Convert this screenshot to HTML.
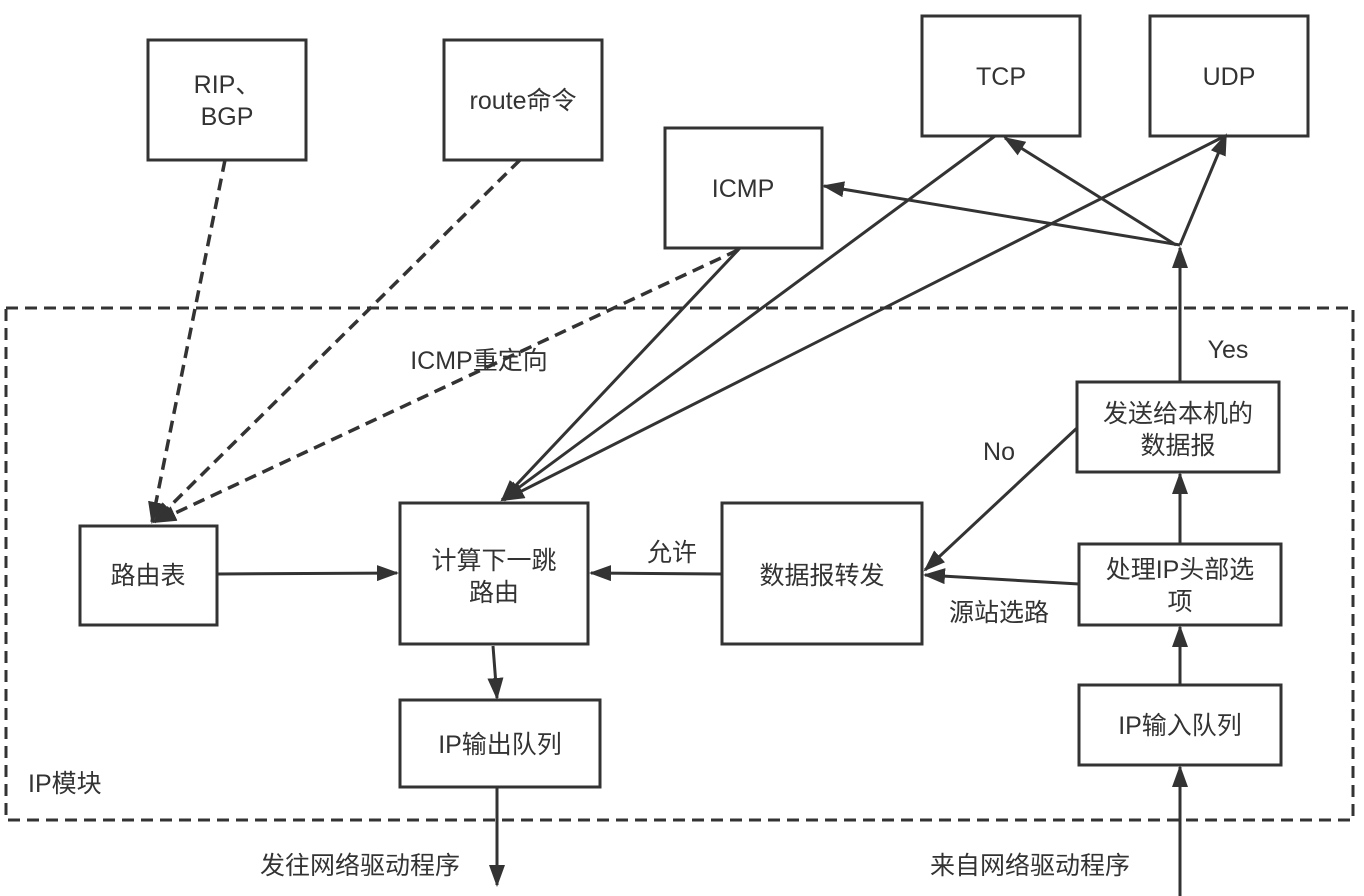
<!DOCTYPE html>
<html><head><meta charset="utf-8"><style>
html,body{margin:0;padding:0;background:#fff;width:1364px;height:896px;overflow:hidden}
text{font-family:"Liberation Sans","Noto Sans CJK SC",sans-serif;font-size:25px;fill:#333}
</style></head><body>
<svg width="1364" height="896" viewBox="0 0 1364 896" xmlns="http://www.w3.org/2000/svg">
<defs>
<marker id="a" markerWidth="22" markerHeight="16" refX="20" refY="8" orient="auto" markerUnits="userSpaceOnUse" viewBox="0 0 22 16">
<path d="M0,0 L22,8 L0,16 z" fill="#333"/></marker>
</defs>
<g fill="none" stroke="#333" stroke-width="3">
<rect x="6" y="308" width="1347" height="512" stroke-dasharray="12,7"/>
<rect x="148" y="40" width="158" height="120"/>
<rect x="444" y="40" width="158" height="120"/>
<rect x="922" y="16" width="158" height="120"/>
<rect x="1150" y="16" width="158" height="120"/>
<rect x="665" y="128" width="157" height="120"/>
<rect x="80" y="526" width="137" height="99"/>
<rect x="400" y="503" width="188" height="141"/>
<rect x="722" y="503" width="200" height="141"/>
<rect x="1077" y="382" width="202" height="90"/>
<rect x="1079" y="544" width="202" height="81"/>
<rect x="1079" y="685" width="202" height="80"/>
<rect x="400" y="700" width="200" height="87"/>
</g>
<g fill="none" stroke="#333" stroke-width="3" marker-end="url(#a)">
<g stroke-dasharray="12,7" stroke-width="3.5">
<line x1="225" y1="160" x2="152" y2="522"/>
<line x1="520" y1="160" x2="154" y2="522"/>
<line x1="738" y1="250" x2="156" y2="522"/>
</g>
<line x1="740" y1="248" x2="502" y2="500"/>
<line x1="995" y1="136" x2="502" y2="500"/>
<line x1="1225" y1="136" x2="504" y2="500"/>
<line x1="1180" y1="245" x2="824" y2="186"/>
<line x1="1176" y1="245" x2="1005" y2="138"/>
<line x1="1180" y1="245" x2="1226" y2="135"/>
<line x1="1180" y1="382" x2="1180" y2="248"/>
<line x1="1077" y1="428" x2="925" y2="570"/>
<line x1="1079" y1="584" x2="925" y2="575"/>
<line x1="722" y1="574" x2="591" y2="573"/>
<line x1="217" y1="574" x2="397" y2="573"/>
<line x1="493" y1="646" x2="497" y2="698"/>
<line x1="497" y1="787" x2="497" y2="885"/>
<line x1="1180" y1="896" x2="1180" y2="767"/>
<line x1="1180" y1="685" x2="1180" y2="627"/>
<line x1="1180" y1="544" x2="1180" y2="474"/>
</g>
<g text-anchor="middle">
<text x="227" y="93">RIP、</text>
<text x="227" y="125">BGP</text>
<text x="523" y="109">route命令</text>
<text x="1001" y="85">TCP</text>
<text x="1229" y="85">UDP</text>
<text x="743" y="197">ICMP</text>
<text x="148" y="584">路由表</text>
<text x="494" y="569">计算下一跳</text>
<text x="494" y="601">路由</text>
<text x="822" y="584">数据报转发</text>
<text x="1178" y="422">发送给本机的</text>
<text x="1178" y="454">数据报</text>
<text x="1180" y="578">处理IP头部选</text>
<text x="1180" y="610">项</text>
<text x="1180" y="734">IP输入队列</text>
<text x="500" y="753">IP输出队列</text>
<text x="479" y="369">ICMP重定向</text>
<text x="1228" y="358">Yes</text>
<text x="999" y="460">No</text>
<text x="999" y="621">源站选路</text>
<text x="672" y="561">允许</text>
<text x="360" y="874">发往网络驱动程序</text>
<text x="1030" y="874">来自网络驱动程序</text>
</g>
<text x="28" y="792">IP模块</text>
</svg>
</body></html>
